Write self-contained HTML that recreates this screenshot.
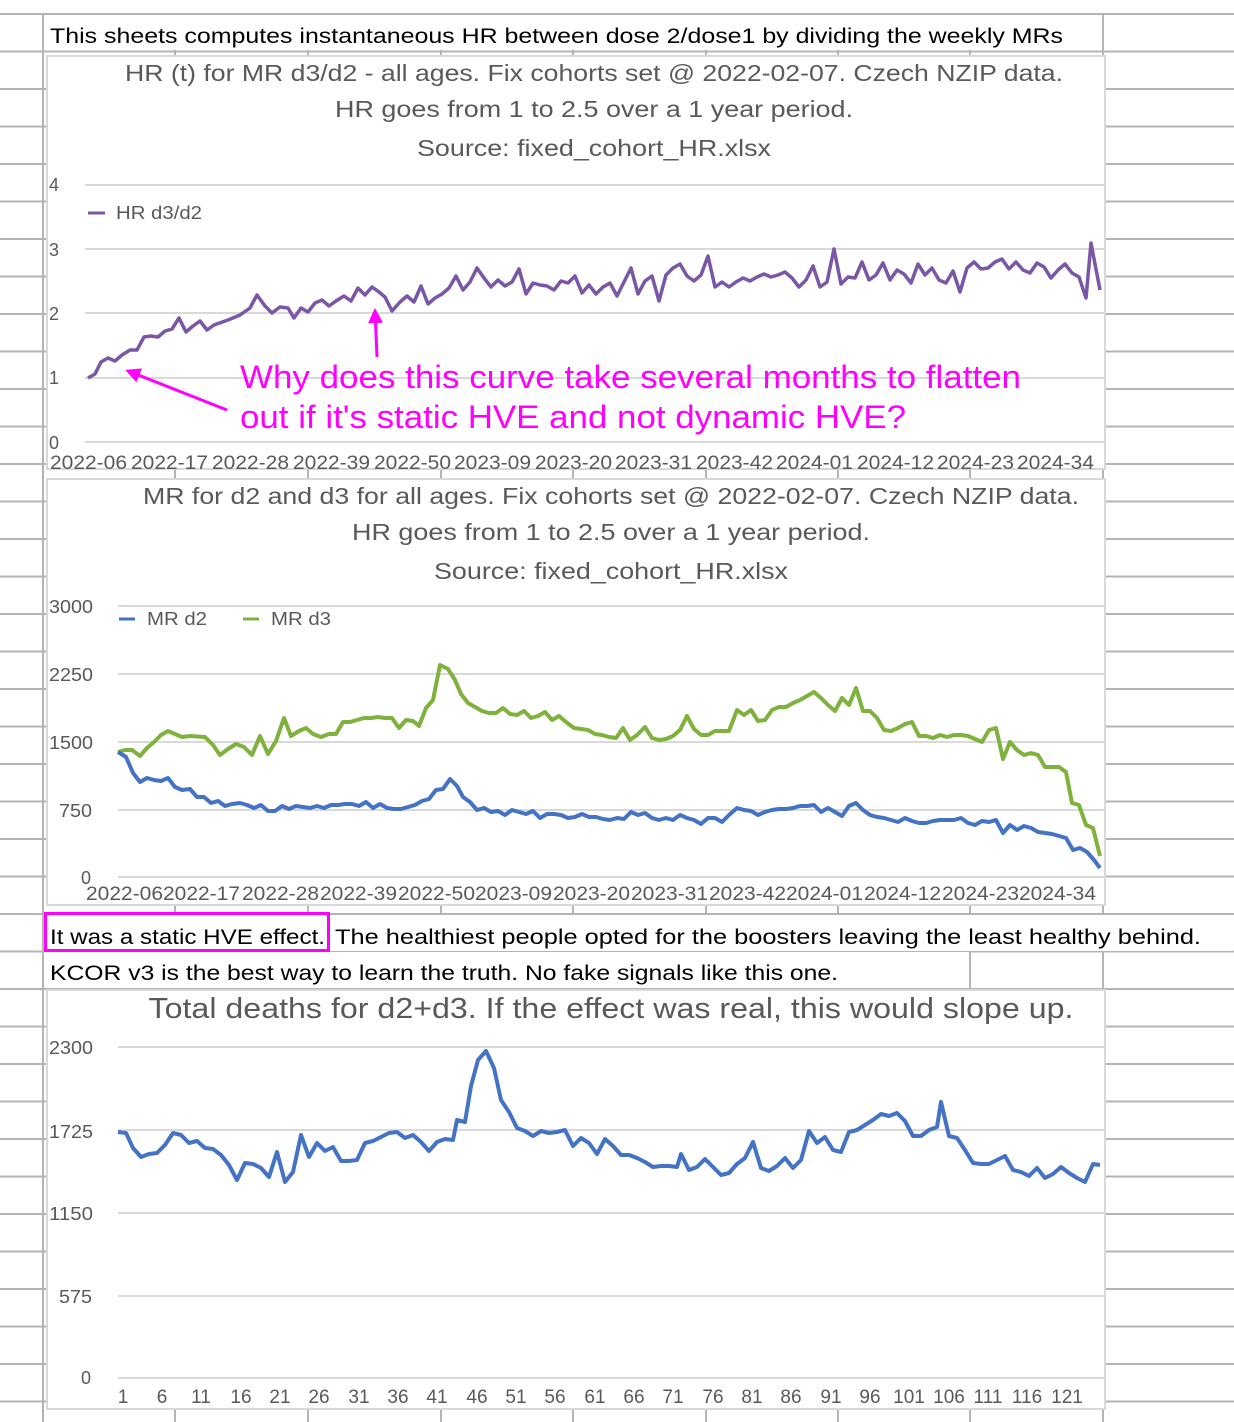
<!DOCTYPE html>
<html><head><meta charset="utf-8"><style>html,body{margin:0;padding:0;background:#fff}svg{display:block}</style></head>
<body>
<svg width="1234" height="1422" viewBox="0 0 1234 1422" xmlns="http://www.w3.org/2000/svg" font-family="Liberation Sans, sans-serif">
<defs>
<marker id="ah" viewBox="0 0 10 10" refX="8" refY="5" markerWidth="5" markerHeight="5" orient="auto"><path d="M0,0 L10,5 L0,10 z" fill="#ff00ff"/></marker>
</defs>
<g stroke="#b4b4b4" stroke-width="2">
<line x1="0" y1="14" x2="1234" y2="14"/><line x1="0" y1="51.5" x2="1234" y2="51.5"/><line x1="0" y1="89" x2="1234" y2="89"/><line x1="0" y1="126.5" x2="1234" y2="126.5"/><line x1="0" y1="164" x2="1234" y2="164"/><line x1="0" y1="201.5" x2="1234" y2="201.5"/><line x1="0" y1="239" x2="1234" y2="239"/><line x1="0" y1="276.5" x2="1234" y2="276.5"/><line x1="0" y1="314" x2="1234" y2="314"/><line x1="0" y1="351.5" x2="1234" y2="351.5"/><line x1="0" y1="389" x2="1234" y2="389"/><line x1="0" y1="426.5" x2="1234" y2="426.5"/><line x1="0" y1="464" x2="1234" y2="464"/><line x1="0" y1="501.5" x2="1234" y2="501.5"/><line x1="0" y1="539" x2="1234" y2="539"/><line x1="0" y1="576.5" x2="1234" y2="576.5"/><line x1="0" y1="614" x2="1234" y2="614"/><line x1="0" y1="651.5" x2="1234" y2="651.5"/><line x1="0" y1="689" x2="1234" y2="689"/><line x1="0" y1="726.5" x2="1234" y2="726.5"/><line x1="0" y1="764" x2="1234" y2="764"/><line x1="0" y1="801.5" x2="1234" y2="801.5"/><line x1="0" y1="839" x2="1234" y2="839"/><line x1="0" y1="876.5" x2="1234" y2="876.5"/><line x1="0" y1="914" x2="1234" y2="914"/><line x1="0" y1="951.5" x2="1234" y2="951.5"/><line x1="0" y1="989" x2="1234" y2="989"/><line x1="0" y1="1026.5" x2="1234" y2="1026.5"/><line x1="0" y1="1064" x2="1234" y2="1064"/><line x1="0" y1="1101.5" x2="1234" y2="1101.5"/><line x1="0" y1="1139" x2="1234" y2="1139"/><line x1="0" y1="1176.5" x2="1234" y2="1176.5"/><line x1="0" y1="1214" x2="1234" y2="1214"/><line x1="0" y1="1251.5" x2="1234" y2="1251.5"/><line x1="0" y1="1289" x2="1234" y2="1289"/><line x1="0" y1="1326.5" x2="1234" y2="1326.5"/><line x1="0" y1="1364" x2="1234" y2="1364"/><line x1="0" y1="1401.5" x2="1234" y2="1401.5"/>
<line x1="43" y1="14" x2="43" y2="1422"/>
<line x1="175" y1="14" x2="175" y2="1422"/><line x1="308" y1="14" x2="308" y2="1422"/><line x1="441" y1="14" x2="441" y2="1422"/><line x1="573" y1="14" x2="573" y2="1422"/><line x1="706" y1="14" x2="706" y2="1422"/><line x1="838" y1="14" x2="838" y2="1422"/><line x1="970" y1="14" x2="970" y2="1422"/><line x1="1103" y1="14" x2="1103" y2="1422"/>
</g>
<rect x="44" y="15" width="1058" height="35" fill="#fff"/>
<rect x="44" y="915" width="1189" height="36" fill="#fff"/>
<rect x="44" y="952" width="925" height="36" fill="#fff"/>
<text x="50" y="43" font-size="21" fill="#000" textLength="1013" lengthAdjust="spacingAndGlyphs">This sheets computes instantaneous HR between dose 2/dose1 by dividing the weekly MRs</text>
<rect x="45.5" y="913.5" width="283" height="37" fill="none" stroke="#ff00ff" stroke-width="3"/>
<text x="50" y="944" font-size="21" fill="#000" textLength="275" lengthAdjust="spacingAndGlyphs">It was a static HVE effect.</text>
<text x="335" y="944" font-size="21" fill="#000" textLength="866" lengthAdjust="spacingAndGlyphs">The healthiest people opted for the boosters leaving the least healthy behind.</text>
<text x="50" y="980" font-size="21" fill="#000" textLength="788" lengthAdjust="spacingAndGlyphs">KCOR v3 is the best way to learn the truth. No fake signals like this one.</text>

<!-- CHART 1 -->
<rect x="47" y="56" width="1058" height="413" fill="#fff" stroke="#d9d9d9" stroke-width="2"/>
<g fill="#595959" text-anchor="middle" font-size="23">
<text x="594" y="81" textLength="938" lengthAdjust="spacingAndGlyphs">HR (t) for MR d3/d2 - all ages. Fix cohorts set @ 2022-02-07. Czech NZIP data.</text>
<text x="594" y="117" textLength="518" lengthAdjust="spacingAndGlyphs">HR goes from 1 to 2.5 over a 1 year period.</text>
<text x="594" y="156" textLength="354" lengthAdjust="spacingAndGlyphs">Source: fixed_cohort_HR.xlsx</text>
</g>
<g stroke="#d9d9d9" stroke-width="2"><line x1="85" y1="185" x2="1105" y2="185"/><line x1="85" y1="249" x2="1105" y2="249"/><line x1="85" y1="313" x2="1105" y2="313"/><line x1="85" y1="378" x2="1105" y2="378"/><line x1="85" y1="442" x2="1105" y2="442"/></g>
<g fill="#595959" font-size="18"><text x="49" y="191">4</text><text x="49" y="256">3</text><text x="49" y="320">2</text><text x="49" y="384">1</text><text x="49" y="449">0</text></g>
<line x1="88" y1="213" x2="105" y2="213" stroke="#7a57a6" stroke-width="3"/>
<text x="116" y="219" font-size="18" fill="#595959" textLength="86" lengthAdjust="spacingAndGlyphs">HR d3/d2</text>
<polyline fill="none" stroke="#7a57a6" stroke-width="3.5" stroke-linejoin="round" points="88,378 95,374 101,362 108,358 115,361 122,355 130,350 137,350 144,337 151,336 158,337 165,331 172,329 179,318 186,332 193,326 200,321 207,330 214,325 228,320 240,315 250,308 257,295 265,306 272,313 280,307 288,308 294,318 301,308 308,312 315,303 322,300 329,306 336,301 344,296 351,301 358,288 365,295 372,287 379,292 385,297 392,311 400,302 407,296 414,302 421,286 428,304 435,298 442,294 449,288 456,276 463,290 470,282 477,268 484,278 491,287 498,280 505,286 512,282 519,269 526,294 533,283 540,285 547,286 554,290 561,281 568,283 575,276 582,293 589,285 596,294 603,287 610,283 617,296 624,282 631,268 638,294 645,281 652,276 659,301 666,275 673,268 680,264 687,276 694,281 701,275 708,256 715,287 722,282 729,287 736,282 743,278 750,281 757,277 764,274 771,277 778,275 785,272 792,278 799,287 806,280 813,266 820,287 827,282 834,249 841,284 848,277 855,278 862,262 869,280 876,275 883,263 890,280 897,270 904,274 911,283 918,264 925,275 932,268 939,280 946,283 953,271 960,292 967,268 974,262 981,269 988,268 995,262 1002,259 1009,269 1016,262 1023,270 1030,273 1037,263 1044,267 1051,278 1058,270 1065,264 1072,273 1079,277 1086,298 1091,243 1100,290"/>
<g fill="#595959" font-size="19">
<text x="50" y="469" textLength="77" lengthAdjust="spacingAndGlyphs">2022-06</text><text x="131" y="469" textLength="77" lengthAdjust="spacingAndGlyphs">2022-17</text><text x="212" y="469" textLength="77" lengthAdjust="spacingAndGlyphs">2022-28</text><text x="293" y="469" textLength="77" lengthAdjust="spacingAndGlyphs">2022-39</text><text x="374" y="469" textLength="77" lengthAdjust="spacingAndGlyphs">2022-50</text><text x="454" y="469" textLength="77" lengthAdjust="spacingAndGlyphs">2023-09</text><text x="535" y="469" textLength="77" lengthAdjust="spacingAndGlyphs">2023-20</text><text x="615" y="469" textLength="77" lengthAdjust="spacingAndGlyphs">2023-31</text><text x="696" y="469" textLength="77" lengthAdjust="spacingAndGlyphs">2023-42</text><text x="776" y="469" textLength="77" lengthAdjust="spacingAndGlyphs">2024-01</text><text x="857" y="469" textLength="77" lengthAdjust="spacingAndGlyphs">2024-12</text><text x="937" y="469" textLength="77" lengthAdjust="spacingAndGlyphs">2024-23</text><text x="1017" y="469" textLength="77" lengthAdjust="spacingAndGlyphs">2024-34</text>
</g>
<g fill="#ff00ff" font-size="32">
<text x="240" y="388" textLength="781" lengthAdjust="spacingAndGlyphs">Why does this curve take several months to flatten</text>
<text x="240" y="428" textLength="666" lengthAdjust="spacingAndGlyphs">out if it's static HVE and not dynamic HVE?</text>
</g>
<line x1="227" y1="410" x2="128" y2="371" stroke="#ff00ff" stroke-width="3" marker-end="url(#ah)"/>
<line x1="377" y1="357" x2="375" y2="311" stroke="#ff00ff" stroke-width="3" marker-end="url(#ah)"/>

<!-- CHART 2 -->
<rect x="47" y="479" width="1058" height="426" fill="#fff" stroke="#d9d9d9" stroke-width="2"/>
<g fill="#595959" text-anchor="middle" font-size="23">
<text x="611" y="504" textLength="936" lengthAdjust="spacingAndGlyphs">MR for d2 and d3 for all ages. Fix cohorts set @ 2022-02-07. Czech NZIP data.</text>
<text x="611" y="540" textLength="518" lengthAdjust="spacingAndGlyphs">HR goes from 1 to 2.5 over a 1 year period.</text>
<text x="611" y="579" textLength="354" lengthAdjust="spacingAndGlyphs">Source: fixed_cohort_HR.xlsx</text>
</g>
<g stroke="#d9d9d9" stroke-width="2"><line x1="118" y1="606" x2="1105" y2="606"/><line x1="118" y1="674" x2="1105" y2="674"/><line x1="118" y1="742" x2="1105" y2="742"/><line x1="118" y1="810" x2="1105" y2="810"/><line x1="118" y1="877" x2="1105" y2="877"/></g>
<g fill="#595959" font-size="18"><text x="49" y="613" textLength="44" lengthAdjust="spacingAndGlyphs">3000</text><text x="49" y="681" textLength="44" lengthAdjust="spacingAndGlyphs">2250</text><text x="49" y="749" textLength="44" lengthAdjust="spacingAndGlyphs">1500</text><text x="59" y="817" textLength="33" lengthAdjust="spacingAndGlyphs">750</text><text x="81" y="884">0</text></g>
<line x1="119" y1="619" x2="135" y2="619" stroke="#4472c4" stroke-width="3"/>
<text x="147" y="625" font-size="18" fill="#595959" textLength="60" lengthAdjust="spacingAndGlyphs">MR d2</text>
<line x1="243" y1="619" x2="259" y2="619" stroke="#7fb13d" stroke-width="3"/>
<text x="271" y="625" font-size="18" fill="#595959" textLength="60" lengthAdjust="spacingAndGlyphs">MR d3</text>
<polyline fill="none" stroke="#7fb13d" stroke-width="4" stroke-linejoin="round" points="118,752 125,750 132,750 140,756 147,748 154,742 161,735 168,731 175,734 182,737 190,736 205,737 213,745 220,755 228,749 236,744 244,747 252,755 260,736 268,754 276,741 284,718 291,736 299,731 306,728 313,734 321,737 329,734 336,734 343,722 350,722 357,720 364,718 371,718 378,717 385,718 392,718 399,728 406,720 413,721 419,726 426,708 433,700 440,665 448,669 455,680 461,694 468,703 475,707 482,711 489,713 496,713 503,708 510,714 517,715 524,711 531,718 538,716 545,712 552,720 559,716 566,722 574,728 581,729 588,730 595,734 602,735 609,737 616,738 623,728 630,740 637,735 645,727 652,738 659,740 666,739 673,736 680,730 687,716 694,729 701,735 708,735 715,731 722,731 729,731 737,710 744,715 751,710 758,721 765,720 772,710 779,707 786,707 793,703 800,700 807,696 814,692 821,698 828,705 835,711 842,698 849,705 856,688 863,711 870,711 877,718 884,730 891,731 898,728 905,724 912,722 919,736 926,736 933,738 940,735 947,737 954,735 961,735 968,736 975,739 982,742 989,730 996,728 1003,759 1010,742 1017,750 1024,755 1031,753 1038,755 1045,767 1052,767 1059,767 1066,772 1072,803 1079,805 1086,825 1093,828 1100,856"/>
<polyline fill="none" stroke="#4472c4" stroke-width="4" stroke-linejoin="round" points="118,752 126,757 133,773 140,782 147,778 154,780 161,781 168,778 175,787 182,790 190,789 197,797 204,797 211,803 218,801 225,806 232,804 240,803 247,805 254,808 261,805 268,811 275,811 282,806 289,809 296,806 303,807 310,808 317,806 324,808 331,805 338,805 345,804 352,804 359,806 366,802 373,808 380,804 387,808 394,809 401,809 408,807 415,805 422,801 429,799 436,790 443,789 450,779 457,786 463,797 470,802 477,810 484,808 491,812 498,811 505,815 512,810 519,812 526,814 533,811 540,818 547,814 554,814 561,815 568,818 575,817 582,814 589,817 596,817 603,819 610,820 617,818 624,819 631,812 638,815 645,813 652,818 659,820 666,818 673,820 680,815 687,818 694,820 701,824 708,818 715,818 722,822 729,815 737,808 744,810 751,811 758,815 765,812 772,810 779,809 786,809 793,808 800,806 807,806 814,805 821,812 828,808 835,812 842,816 849,806 856,803 863,810 870,815 877,817 884,818 891,820 898,822 905,818 912,821 919,823 926,823 933,821 940,820 947,820 954,820 961,818 968,823 975,825 982,821 989,822 996,820 1003,833 1010,825 1017,830 1024,826 1031,828 1038,832 1045,833 1052,834 1059,836 1066,838 1073,850 1080,848 1087,852 1094,860 1100,868"/>
<g fill="#595959" font-size="19">
<text x="86" y="900" textLength="77" lengthAdjust="spacingAndGlyphs">2022-06</text><text x="163" y="900" textLength="77" lengthAdjust="spacingAndGlyphs">2022-17</text><text x="242" y="900" textLength="77" lengthAdjust="spacingAndGlyphs">2022-28</text><text x="320" y="900" textLength="77" lengthAdjust="spacingAndGlyphs">2022-39</text><text x="398" y="900" textLength="77" lengthAdjust="spacingAndGlyphs">2022-50</text><text x="475" y="900" textLength="77" lengthAdjust="spacingAndGlyphs">2023-09</text><text x="553" y="900" textLength="77" lengthAdjust="spacingAndGlyphs">2023-20</text><text x="631" y="900" textLength="77" lengthAdjust="spacingAndGlyphs">2023-31</text><text x="709" y="900" textLength="77" lengthAdjust="spacingAndGlyphs">2023-42</text><text x="786" y="900" textLength="77" lengthAdjust="spacingAndGlyphs">2024-01</text><text x="864" y="900" textLength="77" lengthAdjust="spacingAndGlyphs">2024-12</text><text x="942" y="900" textLength="77" lengthAdjust="spacingAndGlyphs">2024-23</text><text x="1019" y="900" textLength="77" lengthAdjust="spacingAndGlyphs">2024-34</text>
</g>

<!-- CHART 3 -->
<rect x="47" y="990" width="1058" height="419" fill="#fff" stroke="#d9d9d9" stroke-width="2"/>
<text x="611" y="1018" text-anchor="middle" font-size="29" fill="#595959" textLength="925" lengthAdjust="spacingAndGlyphs">Total deaths for d2+d3. If the effect was real, this would slope up.</text>
<g stroke="#d9d9d9" stroke-width="2"><line x1="118" y1="1047" x2="1105" y2="1047"/><line x1="118" y1="1130" x2="1105" y2="1130"/><line x1="118" y1="1213" x2="1105" y2="1213"/><line x1="118" y1="1296" x2="1105" y2="1296"/><line x1="118" y1="1378" x2="1105" y2="1378"/></g>
<g fill="#595959" font-size="18"><text x="49" y="1054" textLength="44" lengthAdjust="spacingAndGlyphs">2300</text><text x="49" y="1138" textLength="44" lengthAdjust="spacingAndGlyphs">1725</text><text x="49" y="1220" textLength="44" lengthAdjust="spacingAndGlyphs">1150</text><text x="59" y="1303" textLength="33" lengthAdjust="spacingAndGlyphs">575</text><text x="81" y="1384">0</text></g>
<polyline fill="none" stroke="#4472c4" stroke-width="4" stroke-linejoin="round" points="118,1132 126,1133 133,1148 141,1157 149,1154 157,1153 165,1145 173,1133 181,1135 189,1143 197,1141 205,1148 213,1149 221,1155 229,1165 237,1180 245,1163 253,1164 261,1168 269,1177 277,1152 285,1182 293,1172 301,1135 309,1157 317,1143 325,1151 333,1147 341,1161 349,1161 357,1160 365,1143 373,1141 381,1137 389,1133 397,1132 405,1138 413,1135 421,1142 429,1151 437,1142 445,1139 453,1140 457,1120 465,1122 471,1086 478,1060 486,1051 494,1068 501,1100 509,1112 517,1128 525,1131 533,1136 541,1131 549,1133 557,1132 565,1130 573,1146 581,1138 589,1143 597,1154 605,1139 613,1146 621,1155 629,1155 637,1158 645,1162 653,1167 661,1166 669,1166 677,1167 681,1154 689,1170 697,1167 705,1159 713,1167 721,1175 729,1173 737,1164 745,1158 753,1142 761,1168 769,1171 777,1166 785,1158 793,1168 801,1160 809,1131 817,1143 825,1137 833,1150 841,1152 849,1132 857,1130 865,1125 873,1120 881,1114 889,1116 897,1113 905,1121 913,1136 921,1136 929,1130 937,1127 941,1102 949,1136 957,1138 965,1150 973,1163 981,1164 989,1164 997,1160 1005,1156 1013,1170 1021,1172 1029,1176 1037,1168 1045,1178 1053,1174 1061,1167 1069,1173 1077,1178 1085,1182 1093,1164 1100,1165"/>
<g fill="#595959" font-size="19" text-anchor="middle">
<text x="123" y="1403">1</text><text x="162" y="1403">6</text><text x="201" y="1403">11</text><text x="241" y="1403">16</text><text x="280" y="1403">21</text><text x="319" y="1403">26</text><text x="359" y="1403">31</text><text x="398" y="1403">36</text><text x="437" y="1403">41</text><text x="477" y="1403">46</text><text x="516" y="1403">51</text><text x="555" y="1403">56</text><text x="595" y="1403">61</text><text x="634" y="1403">66</text><text x="673" y="1403">71</text><text x="713" y="1403">76</text><text x="752" y="1403">81</text><text x="791" y="1403">86</text><text x="831" y="1403">91</text><text x="870" y="1403">96</text><text x="909" y="1403">101</text><text x="949" y="1403">106</text><text x="988" y="1403">111</text><text x="1027" y="1403">116</text><text x="1067" y="1403">121</text>
</g>
</svg>
</body></html>
